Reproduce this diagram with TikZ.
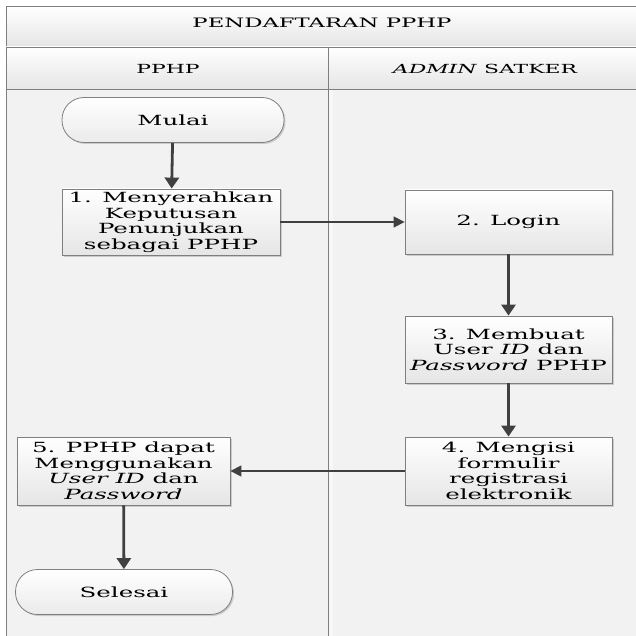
\documentclass[tikz,border=0pt]{standalone}
\usepackage{fontspec}
\setmainfont{DejaVu Serif}[FakeStretch=1.75]
\usetikzlibrary{arrows.meta,shadows}
\definecolor{lanebg}{HTML}{F2F2F2}
\definecolor{linegray}{HTML}{7F7F7F}
\definecolor{arrowgray}{HTML}{404040}
\begin{document}
\begin{tikzpicture}[x=1pt,y=-1pt,
  every node/.style={font=\fontsize{14}{15.5}\selectfont, align=center, inner sep=0pt},
  hdrtext/.style={font=\fontsize{12.5}{15}\selectfont},
  procbox/.style={draw=linegray, line width=0.8pt, top color=white, bottom color=black!10,
    drop shadow={shadow xshift=1.5pt, shadow yshift=-1.5pt, fill=black!30, opacity=0.6}},
  termbox/.style={draw=linegray, line width=0.8pt, rounded corners=22pt, top color=white, bottom color=black!8,
    drop shadow={shadow xshift=1.5pt, shadow yshift=-1.5pt, fill=black!30, opacity=0.6}},
  hdr/.style={draw=linegray, line width=0.8pt, top color=white, bottom color=black!10},
  thick arrow/.style={draw=arrowgray, line width=2.8pt, -{Triangle[length=11pt,width=14pt]}},
  thin arrow/.style={draw=arrowgray, line width=1.3pt, -{Triangle[length=11pt,width=11pt]}}
]
\useasboundingbox (0,0) rectangle (636,636);
\fill[white] (0,0) rectangle (636,636);
% lanes
\fill[lanebg] (6,89) rectangle (640,640);
\fill[white!97!black] (329,89) rectangle (333,640);
\draw[linegray, line width=0.8pt] (6,89) -- (6,640);
\draw[linegray, line width=1pt] (328,47) -- (328,640);
% headers
\path[hdr] (6,6) rectangle (640,47);
\path[hdr] (6,47) rectangle (328,89);
\path[hdr] (328,47) rectangle (640,89);
\node[font=\fontsize{13}{15}\selectfont] (title) at (322,23) {PENDAFTARAN PPHP};
\node[hdrtext] (lane1) at (168,69) {PPHP};
\node[hdrtext] (lane2) at (485,69) {\textit{ADMIN} SATKER};
% nodes
\node[termbox, minimum width=222pt, minimum height=45pt] (start) at (173,120) {Mulai};
\node[procbox, minimum width=218pt, minimum height=66pt] (s1) at (171,222) {1. Menyerahkan\\Keputusan\\Penunjukan\\sebagai PPHP};
\node[procbox, minimum width=207pt, minimum height=64pt] (s2) at (508.5,222) {2. Login};
\node[procbox, minimum width=207pt, minimum height=67pt] (s3) at (508.5,349.5) {3. Membuat\\User \textit{ID} dan\\\textit{Password} PPHP};
\node[procbox, minimum width=207pt, minimum height=68pt] (s4) at (508.5,471) {4. Mengisi\\formulir\\registrasi\\elektronik};
\node[procbox, minimum width=213pt, minimum height=68pt] (s5) at (123.5,471) {5. PPHP dapat\\Menggunakan\\\textit{User ID} dan\\\textit{Password}};
\node[termbox, minimum width=217pt, minimum height=45pt] (end) at (124,592) {Selesai};
% connectors
\draw[thick arrow] (start) -- (s1);
\draw[thin arrow] (s1) -- (s2);
\draw[thick arrow] (s2) -- (s3);
\draw[thick arrow] (s3) -- (s4);
\draw[thin arrow] (s4) -- (s5);
\draw[thick arrow] (s5) -- (end);
\end{tikzpicture}
\end{document}
